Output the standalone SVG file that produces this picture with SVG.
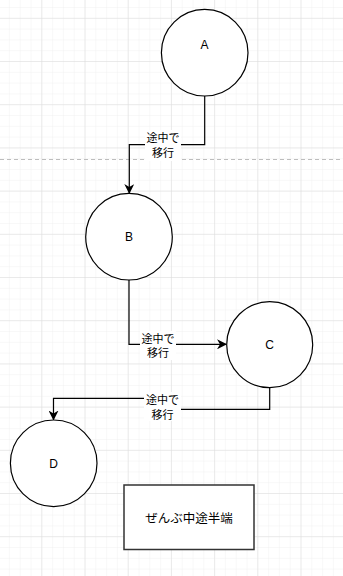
<svg xmlns="http://www.w3.org/2000/svg" width="343" height="576" viewBox="0 0 343 576">
<defs>
<pattern id="minor" x="-0.9" y="18.8" width="10.8" height="10.8" patternUnits="userSpaceOnUse">
<path d="M10.8 0V10.8M0 10.8H10.8" fill="none" stroke="#f1f1f1" stroke-width="1"/>
</pattern>
<pattern id="major" x="-0.9" y="18.8" width="43.2" height="43.2" patternUnits="userSpaceOnUse">
<path d="M43.2 0V43.2M0 43.2H43.2" fill="none" stroke="#dcdcdc" stroke-width="1"/>
</pattern>
<marker id="arrow" viewBox="0 0 10 10" refX="9" refY="5" markerWidth="10" markerHeight="10" markerUnits="userSpaceOnUse" orient="auto">
<path d="M0 0L10 5L0 10L3 5Z" fill="#000"/>
</marker>
</defs>
<style>
.node{fill:#fff;stroke:#000;stroke-width:1.2}
.lbl{font-family:"Liberation Sans","Noto Sans CJK JP",sans-serif;font-size:12px;fill:#000;text-anchor:middle;dominant-baseline:central}
.edge{fill:none;stroke:#000;stroke-width:1.2}
.elbl{font-family:"Noto Sans CJK JP","Liberation Sans",sans-serif;font-size:11px;fill:#000;text-anchor:middle}
.bg{fill:#fff}
</style>
<rect width="343" height="576" fill="#fff"/>
<rect width="343" height="576" fill="url(#minor)"/>
<rect width="343" height="576" fill="url(#major)"/>
<line x1="0" y1="159.5" x2="343" y2="159.5" stroke="#bdbdbd" stroke-width="1" stroke-dasharray="4 3"/>

<g id="connectors">
<g id="e-AB">
<path class="edge" d="M204.7 96V144.7H129.3V193" marker-end="url(#arrow)"/>
<rect class="bg" x="145" y="130" width="36" height="31"/>
<text class="elbl" x="163" y="141.5"><tspan x="163">途中で</tspan><tspan x="163" dy="15">移行</tspan></text>
</g>
<g id="e-BC">
<path class="edge" d="M129 279.5V344.3H226" marker-end="url(#arrow)"/>
<rect class="bg" x="140" y="331" width="36" height="29"/>
<text class="elbl" x="158" y="342.5"><tspan x="158">途中で</tspan><tspan x="158" dy="14.5">移行</tspan></text>
</g>
<g id="e-CD">
<path class="edge" d="M269.7 388V409.3H162.5V398.3H53.5V419.5" marker-end="url(#arrow)"/>
<rect class="bg" x="144" y="392" width="37" height="29"/>
<text class="elbl" x="162.5" y="404"><tspan x="162.5">途中で</tspan><tspan x="162.5" dy="14.5">移行</tspan></text>
</g>
</g>

<g id="A">
<circle class="node" cx="204.7" cy="52.7" r="43.3"/>
<text class="lbl" x="204.5" y="44.5">A</text>
</g>
<g id="B">
<circle class="node" cx="129" cy="236.7" r="43.3"/>
<text class="lbl" x="129" y="237">B</text>
</g>
<g id="C">
<circle class="node" cx="269.7" cy="344.7" r="43"/>
<text class="lbl" x="269.5" y="345">C</text>
</g>
<g id="D">
<circle class="node" cx="53.7" cy="463.3" r="43.3"/>
<text class="lbl" x="53.5" y="463.5">D</text>
</g>
<g id="E">
<rect x="124" y="485" width="130" height="64.5" fill="#fff" stroke="#333" stroke-width="1.5"/>
<text class="lbl" x="189" y="517" style="font-family:'Noto Sans CJK JP',sans-serif;font-size:12.5px">ぜんぶ中途半端</text>
</g>
</svg>
